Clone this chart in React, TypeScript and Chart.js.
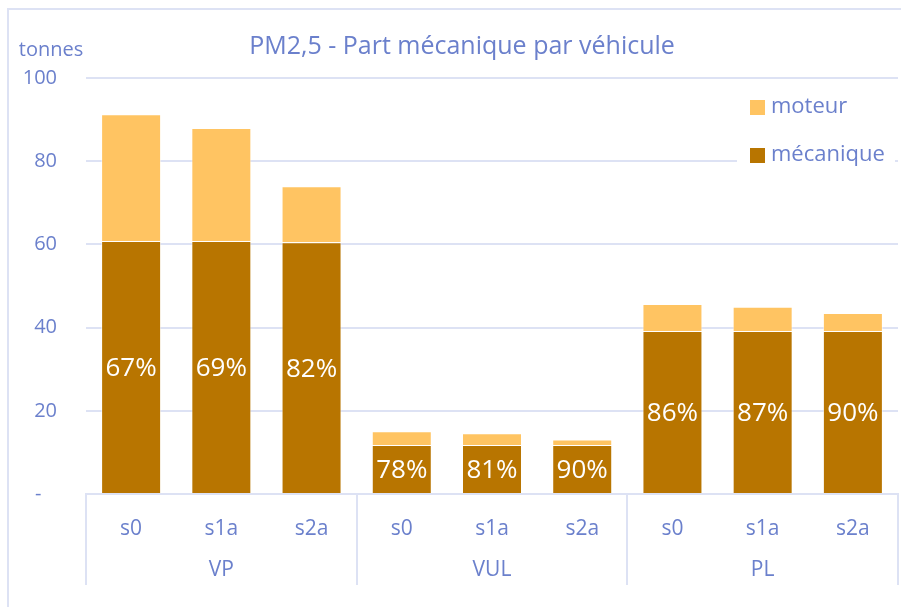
import React, { useEffect, useRef } from "react";
import { Chart, registerables } from "chart.js";

Chart.register(...registerables);

const groups = ["VP", "VUL", "PL"];
const scenarios = ["s0", "s1a", "s2a"];
const mecanique = [60.8, 60.8, 60.5, 11.8, 11.8, 11.8, 39.2, 39.2, 39.2];
const moteur = [30.5, 27.2, 13.5, 3.3, 2.8, 1.3, 6.5, 5.8, 4.3];
const yTicks = [0, 20, 40, 60, 80, 100];

const TITLE = "PM2,5 - Part mécanique par véhicule";
const UNIT = "tonnes";
const BLUE = "#6B80CC";
const GRID = "#DDE2F4";
const C_MEC = "#B87500";
const C_MOT = "#FFC462";
const FONT = "'Open Sans', 'Noto Sans', sans-serif";

const labels = groups.flatMap(() => scenarios);

const decorPlugin = {
  id: "decor",
  beforeDraw(chart: any) {
    const ctx = chart.ctx;
    ctx.save();
    ctx.fillStyle = "#fff";
    ctx.fillRect(0, 0, chart.width, chart.height);
    ctx.strokeStyle = GRID;
    ctx.lineWidth = 2;
    ctx.beginPath();
    ctx.moveTo(8, 607);
    ctx.lineTo(8, 9);
    ctx.lineTo(901, 9);
    ctx.stroke();
    ctx.restore();
  },
  afterDraw(chart: any) {
    const ctx = chart.ctx;
    const x = chart.scales.x;
    const area = chart.chartArea;
    const n = labels.length;
    const cw = (area.right - area.left) / n;
    ctx.save();
    // title and unit
    ctx.fillStyle = BLUE;
    ctx.textAlign = "center";
    ctx.textBaseline = "middle";
    ctx.font = `25px ${FONT}`;
    ctx.fillText(TITLE, 462, 47);
    ctx.font = `20px ${FONT}`;
    ctx.fillText(UNIT, 51, 50);
    // group separators and labels
    ctx.strokeStyle = GRID;
    ctx.lineWidth = 2;
    for (let g = 0; g <= groups.length; g++) {
      const i = g * scenarios.length;
      const px = Math.round(x.getPixelForValue(Math.min(i, n - 1)) + (i >= n ? cw / 2 : -cw / 2));
      ctx.beginPath();
      ctx.moveTo(px, area.bottom);
      ctx.lineTo(px, 585);
      ctx.stroke();
    }
    ctx.fillStyle = BLUE;
    ctx.font = `21px ${FONT}`;
    groups.forEach((g, k) => {
      const mid = k * scenarios.length + (scenarios.length - 1) / 2;
      ctx.fillText(g, x.getPixelForValue(mid), 570);
    });
    // percentage labels
    const meta = chart.getDatasetMeta(0);
    ctx.fillStyle = "#fff";
    ctx.font = `26px ${FONT}`;
    meta.data.forEach((bar: any, i: number) => {
      const pct = Math.round((mecanique[i] / (mecanique[i] + moteur[i])) * 100);
      const cy = (bar.y + bar.base) / 2;
      ctx.fillText(pct + "%", bar.x, cy + 2);
    });
    // legend
    ctx.fillStyle = "#fff";
    ctx.fillRect(737, 86, 158, 90);
    const items = [chart.data.datasets[1], chart.data.datasets[0]];
    items.forEach((ds: any, k: number) => {
      const yy = 107 + k * 48;
      ctx.fillStyle = ds.backgroundColor;
      ctx.fillRect(750, yy - 7, 15, 15);
      ctx.fillStyle = BLUE;
      ctx.textAlign = "left";
      ctx.font = `22px ${FONT}`;
      ctx.fillText(ds.label, 771, yy);
    });
    ctx.restore();
  },
};

export default function App() {
  const ref = useRef<HTMLCanvasElement>(null);
  useEffect(() => {
    const chart = new Chart(ref.current as HTMLCanvasElement, {
      type: "bar",
      data: {
        labels,
        datasets: [
          {
            label: "mécanique",
            data: mecanique,
            backgroundColor: C_MEC,
            borderColor: "rgba(255,255,255,0.5)",
            borderWidth: 1,
            categoryPercentage: 0.665,
            barPercentage: 1,
          },
          {
            label: "moteur",
            data: moteur,
            backgroundColor: C_MOT,
            borderColor: "rgba(255,255,255,0.5)",
            borderWidth: 1,
            categoryPercentage: 0.665,
            barPercentage: 1,
          },
        ],
      },
      options: {
        animation: false,
        responsive: false,
        layout: { padding: { top: 78, right: 3, left: 0, bottom: 0 } },
        plugins: {
          legend: { display: false },
          title: { display: false },
          tooltip: { enabled: false },
        },
        scales: {
          x: {
            stacked: true,
            grid: { display: false },
            border: { display: true, color: GRID, width: 2 },
            ticks: { color: BLUE, font: { family: FONT, size: 21 }, padding: 14, maxRotation: 0 },
            afterFit(s: any) {
              s.height = 113;
            },
          },
          y: {
            stacked: true,
            min: 0,
            max: 100,
            afterBuildTicks(s: any) {
              s.ticks = yTicks.map((v) => ({ value: v }));
            },
            grid: { color: GRID, lineWidth: 2, drawTicks: false },
            border: { display: false },
            ticks: {
              color: BLUE,
              font: { family: FONT, size: 20 },
              padding: 29,
              callback: (v: any) => (v === 0 ? "-   " : String(v)),
            },
            afterFit(s: any) {
              s.width = 86;
            },
          },
        },
      },
      plugins: [decorPlugin],
    } as any);
    return () => chart.destroy();
  }, []);
  return (
    <canvas
      ref={ref}
      width={901}
      height={607}
      style={{ position: "fixed", left: 0, top: 0, width: 901, height: 607 }}
    />
  );
}
